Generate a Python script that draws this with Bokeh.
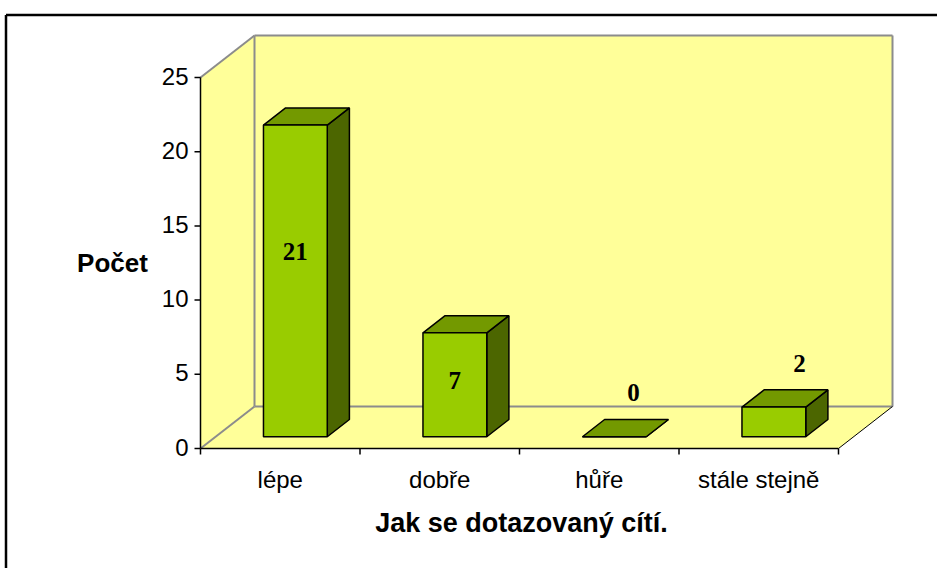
from bokeh.plotting import figure
from bokeh.models import Range1d
from bokeh.embed import file_html
from bokeh.resources import INLINE
from bokeh.core.properties import value

# ---------------- data ----------------
categories = ["lépe", "dobře", "hůře", "stále stejně"]
counts = [21, 7, 0, 2]
y_ticks = [0, 5, 10, 15, 20, 25]
y_max = 25
x_title = "Jak se dotazovaný cítí."
y_title = "Počet"

# ---------------- geometry (pixels) ----------------
W, H = 937, 568
ORIGIN_X, ORIGIN_Y = 200, 448      # figure pixel of (category 0, count 0)
PX_X = 159.5                       # pixels per category
PX_Y = 14.84                       # pixels per count unit


def hx(px):
    return px / PX_X


def hy(px):
    return px / PX_Y


DX, DY = hx(54), hy(42)            # 3-D depth of the chart box
F0, F1 = 0.28, 0.69                # front / back depth of the bars
BAR_W = 0.4
n = len(categories)

WALL = "#FFFF99"
EDGE = "#8C8C8C"
FRONT = "#99CC00"
TOP = "#739900"
SIDE = "#4C6600"
SANS = value("Liberation Sans")
SERIF = value("Liberation Serif")

p = figure(width=W, height=H, output_backend="svg", toolbar_location=None,
           x_axis_type=None, y_axis_type=None,
           x_range=Range1d(-hx(ORIGIN_X), hx(W - ORIGIN_X)),
           y_range=Range1d(-hy(H - ORIGIN_Y), hy(ORIGIN_Y)),
           min_border=0, outline_line_color=None, background_fill_color="white",
           border_fill_color="white")
p.min_border_left = p.min_border_right = p.min_border_top = p.min_border_bottom = 0

# ---------------- chart box (walls, floor) ----------------
p.patch([0, 0, DX, DX], [0, y_max, y_max + DY, DY], fill_color=WALL, line_color=None)
p.patch([DX, DX, n + DX, n + DX], [DY, y_max + DY, y_max + DY, DY], fill_color=WALL, line_color=None)
p.patch([0, n, n + DX, DX], [0, 0, DY, DY], fill_color=WALL, line_color=None)

p.multi_line(
    xs=[[DX, DX], [DX, n + DX], [n + DX, n + DX], [DX, n + DX], [0, DX], [0, DX]],
    ys=[[DY, y_max + DY], [y_max + DY, y_max + DY], [DY, y_max + DY], [DY, DY], [y_max, y_max + DY], [0, DY]],
    line_color=EDGE, line_width=2)
p.line([n, n + DX], [0, DY], line_color="black", line_width=1)

# axis lines
p.line([0, 0], [0, y_max], line_color="black", line_width=1.5)
p.line([0, n], [0, 0], line_color="black", line_width=1.5)

# y ticks and labels
p.segment(x0=[-hx(6)] * len(y_ticks), y0=y_ticks, x1=[0] * len(y_ticks), y1=y_ticks,
          line_color="black", line_width=1.5)
p.text(x=[-hx(12)] * len(y_ticks), y=[t + hy(1.5) for t in y_ticks], text=[str(t) for t in y_ticks],
       text_font=SANS, text_font_size="24px", text_align="right", text_baseline="middle",
       text_color="black")

# x ticks (category boundaries) and labels
bounds = list(range(n + 1))
p.segment(x0=bounds, y0=[0] * len(bounds), x1=bounds, y1=[-hy(6)] * len(bounds),
          line_color="black", line_width=1.5)
p.text(x=[i + 0.5 for i in range(n)], y=[-hy(31)] * n, text=categories,
       text_font=SANS, text_font_size="24px", text_align="center", text_baseline="alphabetic",
       text_color="black")

# ---------------- bars ----------------
ex, ey = (F1 - F0) * DX, (F1 - F0) * DY
front_l, front_r, front_b, front_t = [], [], [], []
top_xs, top_ys, side_xs, side_ys = [], [], [], []
lab_x, lab_y, lab_t = [], [], []
for i, v in enumerate(counts):
    x0 = i + 0.5 - BAR_W / 2 + F0 * DX
    x1 = x0 + BAR_W
    yb = F0 * DY
    yt = v + F0 * DY
    front_l.append(x0); front_r.append(x1); front_b.append(yb); front_t.append(yt)
    top_xs.append([x0, x1, x1 + ex, x0 + ex]); top_ys.append([yt, yt, yt + ey, yt + ey])
    side_xs.append([x1, x1 + ex, x1 + ex, x1]); side_ys.append([yb, yb + ey, yt + ey, yt])
    if v >= 5:
        lab_x.append(x0 + BAR_W / 2); lab_y.append(0.62 * v + 0.25)
    else:
        lab_x.append(x0 + BAR_W / 2 + 0.12 + 0.02 * v); lab_y.append(v + 3.75)
    lab_t.append(str(v))

p.patches(side_xs, side_ys, fill_color=SIDE, line_color="black", line_width=1.5)
p.patches(top_xs, top_ys, fill_color=TOP, line_color="black", line_width=1.5)
p.quad(left=front_l, right=front_r, bottom=front_b, top=front_t,
       fill_color=FRONT, line_color="black", line_width=1.5)

p.text(x=lab_x, y=lab_y, text=lab_t, text_font=SERIF, text_font_style="bold",
       text_font_size="25px", text_align="center", text_baseline="middle", text_color="black")

# ---------------- titles ----------------
p.text(x=[n / 2 + hx(2)], y=[-hy(74)], text=[x_title], text_font=SANS, text_font_style="bold",
       text_font_size="27px", text_align="center", text_baseline="alphabetic", text_color="black")
p.text(x=[-hx(88)], y=[hy(186)], text=[y_title], text_font=SANS, text_font_style="bold",
       text_font_size="26px", text_align="center", text_baseline="alphabetic", text_color="black")

# ---------------- outer frame ----------------
top_y = hy(ORIGIN_Y - 14.5)
left_x = -hx(ORIGIN_X - 5.5)
p.line([left_x, hx(W - ORIGIN_X)], [top_y, top_y], line_color="black", line_width=2.5)
p.line([left_x, left_x], [top_y, -hy(H - ORIGIN_Y)], line_color="black", line_width=2.5)

open("out.html", "w").write(file_html(p, INLINE))
